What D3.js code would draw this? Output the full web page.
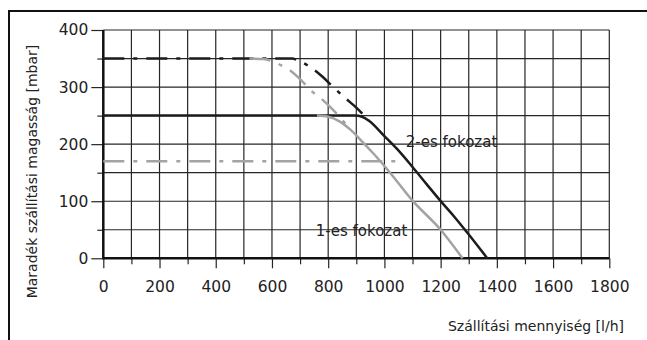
<!DOCTYPE html>
<html><head><meta charset="utf-8">
<script src="https://cdn.jsdelivr.net/npm/d3@7/dist/d3.min.js"></script>
<style>
body{margin:0;background:#fff;}
text{font-family:"DejaVu Sans",sans-serif;fill:#222;}
</style></head>
<body><svg id="c" width="647" height="340"></svg>
<script>
// tick labels
const xTickLabels = [0,200,400,600,800,1000,1200,1400,1600,1800];
const yTickLabels = [0,100,200,300,400];
const xGrid = [0,100,200,300,400,500,600,700,800,900,1000,1100,1200,1300,1400,1500,1600,1700,1800];
const yGrid = [0,50,100,150,200,250,300,350,400];
// series: [flow l/h, pressure mbar]
const stage2Solid = [[0,250],[895,250],[920,248],[945,241],[1000,214],[1044,192],[1100,160],[1150,130],[1204,98],[1250,72],[1293,46],[1366,0]];
const stage1Solid = [[760,250],[800,248],[840,240],[880,225],[920,205],[960,184],[1020,150],[1100,101],[1200,50],[1278,0]];
const stage2DashDot = [[0,350],[670,350],[700,345],[740,334],[780,318],[820,299],[860,281],[900,264],[945,241]];
const stage1DashDotUpper = [[520,350],[570,349],[620,341],[665,329],[706,311],[741,293],[777,279],[819,259],[850,242],[880,225]];
const stage1DashDotLower = [[0,170],[1068,170]];
const seriesLabels = [{t:"2-es fokozat",x:1076,y:195},{t:"1-es fokozat",x:756,y:39}];

const svg = d3.select("#c");
const x = d3.scaleLinear([0,1800],[103.3,609.3]);
const y = d3.scaleLinear([0,400],[258.3,30]);

// frame
svg.append("line").attr("x1",8).attr("x2",647).attr("y1",11).attr("y2",11).attr("stroke","#111").attr("stroke-width",2);
svg.append("line").attr("x1",9).attr("x2",9).attr("y1",10).attr("y2",340).attr("stroke","#111").attr("stroke-width",2);

// grid
const g = svg.append("g");
g.selectAll(".vg").data(xGrid).join("line")
  .attr("x1",d=>x(d)).attr("x2",d=>x(d)).attr("y1",y(400)).attr("y2",y(0))
  .attr("stroke","#262626").attr("stroke-width",1.2);
g.selectAll(".hg").data(yGrid).join("line")
  .attr("x1",x(0)).attr("x2",x(1800)).attr("y1",d=>y(d)).attr("y2",d=>y(d))
  .attr("stroke","#262626").attr("stroke-width",1.2);

// axes
function styleAxis(sel){
  sel.select(".domain").remove();
  sel.selectAll(".tick line").attr("stroke","#262626").attr("stroke-width",1.2);
  sel.selectAll(".tick text").style("font-family","DejaVu Sans").style("font-size","15.5px").attr("fill","#222");
}
svg.append("g").attr("transform",`translate(${x(0)},0)`)
  .call(d3.axisLeft(y).tickValues(yGrid.filter(v=>!yTickLabels.includes(v))).tickSize(6).tickFormat(""))
  .call(styleAxis);
svg.append("g").attr("transform",`translate(${x(0)},0)`)
  .call(d3.axisLeft(y).tickValues(yTickLabels).tickSize(12).tickPadding(3).tickFormat(d3.format("d")))
  .call(styleAxis);
svg.append("g").attr("transform",`translate(0,${y(0)})`)
  .call(d3.axisBottom(x).tickValues(xGrid.filter(v=>!xTickLabels.includes(v))).tickSize(6).tickFormat(""))
  .call(styleAxis);
svg.append("g").attr("transform",`translate(0,${y(0)})`)
  .call(d3.axisBottom(x).tickValues(xTickLabels).tickSize(10).tickPadding(13).tickFormat(d3.format("d")))
  .call(styleAxis);

// axis lines
svg.append("line").attr("x1",x(0)).attr("x2",x(0)).attr("y1",y(400)).attr("y2",y(0)+1).attr("stroke","#111").attr("stroke-width",2.5);
svg.append("line").attr("x1",x(0)).attr("x2",x(1800)).attr("y1",y(0)).attr("y2",y(0)).attr("stroke","#111").attr("stroke-width",2.5);

// curves
const line = d3.line().x(d=>x(d[0])).y(d=>y(d[1])).curve(d3.curveMonotoneX);
const black = "#1c1c1c", gray = "#a3a3a3";
const dash = "21,9,4,9";
function draw(data,color,da){
  svg.append("path").datum(data).attr("d",line).attr("fill","none")
    .attr("stroke",color).attr("stroke-width",2.5).attr("stroke-dasharray",da||null);
}
draw(stage2DashDot,black,dash);
draw(stage2Solid,black);
draw(stage1Solid,gray);
draw(stage1DashDotUpper,gray,dash);
draw(stage1DashDotLower,gray,dash);

// series labels
svg.selectAll(".sl").data(seriesLabels).join("text")
  .attr("x",d=>x(d.x)).attr("y",d=>y(d.y)).style("font-size","15px").text(d=>d.t);

// axis titles
svg.append("text").attr("x",624).attr("y",331).attr("text-anchor","end").style("font-size","14px").text("Szállítási mennyiség [l/h]");
svg.append("text").attr("transform","translate(37,171.5) rotate(-90)").attr("text-anchor","middle").style("font-size","14px").text("Maradék szállítási magasság [mbar]");
</script></body></html>
